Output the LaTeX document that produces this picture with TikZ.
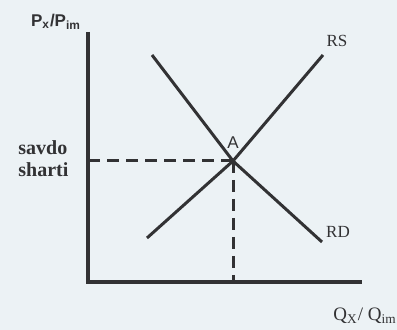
\documentclass[tikz,border=0pt]{standalone}
\usepackage{fontspec}
\setmainfont{Liberation Serif}
\newfontfamily\axisfont{Liberation Sans}
\definecolor{paper}{RGB}{236,242,245}
\definecolor{ink}{RGB}{50,50,52}
\tikzset{
    axisline/.style={ % trục toạ độ
        draw=ink,
        line width=2.2pt
    },
    curveline/.style={ % đường RS và RD
        draw=ink,
        line width=1.5pt
    },
    guideline/.style={ % đường nét đứt
        draw=ink,
        line width=1.5pt,
        dash pattern=on 6pt off 3.5pt
    },
    curvelabel/.style={ % nhãn đường
        text=ink,
        inner sep=0pt,
        font=\fontsize{8.5}{10}\selectfont
    }
}

\begin{document}
\begin{tikzpicture}[x=0.5pt, y=-0.5pt]

        \fill[paper] (0,0) rectangle (397,330);
        \useasboundingbox (0,0) rectangle (397,330);

        \coordinate (origin) at (88,282);
        \coordinate (ytop) at (88,32);
        \coordinate (xend) at (362,282);
        \coordinate (eq) at (233,161);
        \coordinate (peq) at (88,161);
        \coordinate (qeq) at (233,282);
        \coordinate (rslow) at (147,238);
        \coordinate (rshigh) at (323,55);
        \coordinate (rdhigh) at (152,55);
        \coordinate (rdlow) at (322,242);

        \draw[guideline] (peq) -- (eq);
        \draw[guideline] (eq) -- (qeq);
        \draw[curveline] (rslow) -- (eq) -- (rshigh);
        \draw[curveline] (rdhigh) -- (eq) -- (rdlow);
        \draw[axisline] (ytop) -- (origin) -- (xend);

        \node [curvelabel] (rs) at (337,41) {RS};
        \node [curvelabel] (rd) at (338,232) {RD};
        \node [curvelabel, font=\axisfont\fontsize{8.5}{10}\selectfont] (A) at (233,143) {A};
        \node [curvelabel, font=\axisfont\bfseries\fontsize{8.5}{10}\selectfont] (price) at (56,22) {P\textsubscript{x}/P\textsubscript{im}};
        \node [curvelabel, anchor=west, align=left, font=\bfseries\fontsize{10}{11}\selectfont] (savdo) at (18,159) {savdo\\sharti};
        \node [curvelabel, anchor=east, font=\fontsize{9.5}{11}\selectfont] (qty) at (397,316) {Q\textsubscript{X}/ Q\textsubscript{im}};

\end{tikzpicture}
\end{document}
